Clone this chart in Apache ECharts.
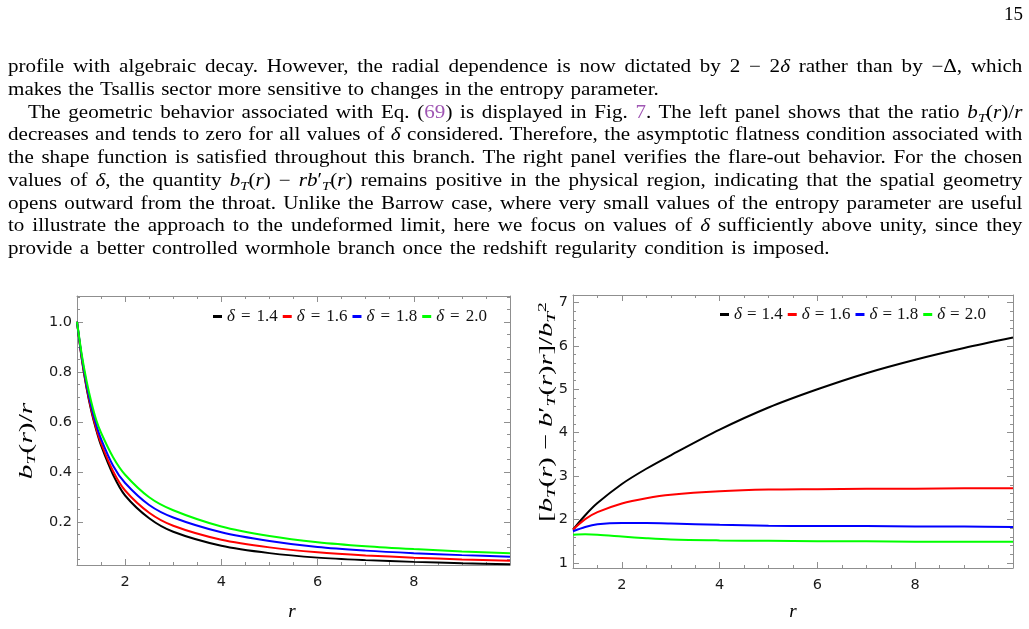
<!DOCTYPE html>
<html>
<head>
<meta charset="utf-8">
<title>Fig. 7</title>
<script src="https://cdn.jsdelivr.net/npm/echarts@6/dist/echarts.min.js"></script>
<style>
body{margin:0;background:#fff;}
#main{position:absolute;left:0;top:0;width:1029px;height:629px;}
#page{position:absolute;left:8px;top:0;width:867px;height:280px;z-index:2;font-family:"Liberation Serif",serif;font-size:18px;color:#000;transform:scaleX(1.17);transform-origin:0 0;}
.ln{position:absolute;left:0;width:867px;height:23px;line-height:23px;}
.j{text-align:justify;text-align-last:justify;}
.ln sub{font-size:0.7em;line-height:0;vertical-align:-0.3em;}
.lk{color:#9f56b3;}
#pn{position:absolute;right:6px;top:3px;font-family:"Liberation Serif",serif;font-size:19px;z-index:2;}
</style>
</head>
<body>
<div id="main"></div>
<div id="pn">15</div>
<div id="page">
  <div class="ln j" style="top:55px">profile with algebraic decay. However, the radial dependence is now dictated by 2 &minus; 2<i>&delta;</i> rather than by &minus;&Delta;, which</div>
  <div class="ln" style="top:78px;word-spacing:1px">makes the Tsallis sector more sensitive to changes in the entropy parameter.</div>
  <div class="ln j" style="top:101px;left:17px;width:850px">The geometric behavior associated with Eq. (<span class="lk">69</span>) is displayed in Fig. <span class="lk">7</span>. The left panel shows that the ratio <i>b</i><sub><i>T</i></sub>(<i>r</i>)/<i>r</i></div>
  <div class="ln j" style="top:123px">decreases and tends to zero for all values of <i>&delta;</i> considered. Therefore, the asymptotic flatness condition associated with</div>
  <div class="ln j" style="top:146px">the shape function is satisfied throughout this branch. The right panel verifies the flare-out behavior. For the chosen</div>
  <div class="ln j" style="top:169px">values of <i>&delta;</i>, the quantity <i>b</i><sub><i>T</i></sub>(<i>r</i>) &minus; <i>rb</i>&prime;<sub><i>T</i></sub>(<i>r</i>) remains positive in the physical region, indicating that the spatial geometry</div>
  <div class="ln j" style="top:192px">opens outward from the throat. Unlike the Barrow case, where very small values of the entropy parameter are useful</div>
  <div class="ln j" style="top:214px">to illustrate the approach to the undeformed limit, here we focus on values of <i>&delta;</i> sufficiently above unity, since they</div>
  <div class="ln" style="top:237px;word-spacing:1.9px">provide a better controlled wormhole branch once the redshift regularity condition is imposed.</div>
</div>
<script type="text/javascript">
// values
var deltas = ['1.4', '1.6', '1.8', '2.0'];
var colors = ['#000000', '#ff0000', '#0000ff', '#00ff00'];

// left panel: b_T(r)/r
var rLeft = [1, 1.1, 1.2, 1.3, 1.4, 1.5, 1.75, 2, 2.5, 3, 4, 5, 6, 7, 8, 9, 10];
var ratio14 = [1.0, 0.850, 0.734, 0.641, 0.567, 0.505, 0.388, 0.305, 0.214, 0.160, 0.104, 0.0745, 0.0565, 0.0465, 0.0395, 0.0342, 0.030];
var ratio16 = [1.0, 0.853, 0.739, 0.647, 0.573, 0.514, 0.402, 0.325, 0.236, 0.184, 0.128, 0.0975, 0.078, 0.0654, 0.0564, 0.0494, 0.044];
var ratio18 = [1.0, 0.859, 0.748, 0.659, 0.588, 0.531, 0.424, 0.355, 0.267, 0.217, 0.158, 0.123, 0.0987, 0.0845, 0.0744, 0.0665, 0.060];
var ratio20 = [1.0, 0.867, 0.762, 0.677, 0.607, 0.556, 0.458, 0.388, 0.298, 0.246, 0.181, 0.143, 0.118, 0.102, 0.0906, 0.0814, 0.074];

// right panel: [b_T - b'_T r]/b_T^2
var rRight = [1, 1.25, 1.5, 2, 2.5, 3, 4, 5, 6, 7, 8, 9, 10];
var flare14 = [1.77, 2.10, 2.38, 2.82, 3.17, 3.48, 4.07, 4.58, 5.00, 5.37, 5.68, 5.95, 6.19];
var flare16 = [1.77, 2.01, 2.17, 2.37, 2.49, 2.57, 2.65, 2.69, 2.70, 2.71, 2.71, 2.72, 2.72];
var flare18 = [1.73, 1.83, 1.89, 1.92, 1.92, 1.91, 1.88, 1.86, 1.85, 1.85, 1.84, 1.84, 1.83];
var flare20 = [1.65, 1.66, 1.65, 1.61, 1.57, 1.54, 1.52, 1.51, 1.50, 1.50, 1.49, 1.49, 1.49];

// ticks
var xMajor = [2, 4, 6, 8];
var xMinor = [1.5, 2.5, 3, 3.5, 4.5, 5, 5.5, 6.5, 7, 7.5, 8.5, 9, 9.5];
var yLeftMajor = [0.2, 0.4, 0.6, 0.8, 1.0];
var yLeftMinor = [0.05, 0.1, 0.15, 0.25, 0.3, 0.35, 0.45, 0.5, 0.55, 0.65, 0.7, 0.75, 0.85, 0.9, 0.95, 1.05, 1.1];
var yRightMajor = [1, 2, 3, 4, 5, 6, 7];
var yRightMinor = [1.2, 1.4, 1.6, 1.8, 2.2, 2.4, 2.6, 2.8, 3.2, 3.4, 3.6, 3.8, 4.2, 4.4, 4.6, 4.8, 5.2, 5.4, 5.6, 5.8, 6.2, 6.4, 6.6, 6.8];

var frameColor = '#8f8f8f';
var serif = 'Liberation Serif';

function frame(dim, gi, min, max, major, minor, fmt) {
	var pos = dim === 'x' ? ['bottom', 'top'] : ['left', 'right'];
	var out = [];
	pos.forEach(function (p, k) {
		out.push({
			type: 'value', gridIndex: gi, position: p, min: min, max: max,
			axisLine: { show: true, onZero: false, lineStyle: { color: frameColor, width: 1 } },
			axisTick: { show: true, inside: true, length: 6, customValues: major, lineStyle: { color: frameColor } },
			axisLabel: {
				show: k === 0, customValues: major, formatter: fmt,
				color: '#1a1a1a', fontFamily: 'DejaVu Sans', fontSize: 14.5,
				margin: dim === 'x' ? 10 : 5
			},
			splitLine: { show: false }
		});
		out.push({
			type: 'value', gridIndex: gi, position: p, min: min, max: max,
			axisLine: { show: false, onZero: false },
			axisTick: { show: true, inside: true, length: 3, customValues: minor, lineStyle: { color: frameColor } },
			axisLabel: { show: false },
			splitLine: { show: false }
		});
	});
	return out;
}

function pairs(xs, ys) {
	return xs.map(function (x, i) { return [x, ys[i]]; });
}

var leftSets = [ratio14, ratio16, ratio18, ratio20];
var rightSets = [flare14, flare16, flare18, flare20];
var names = deltas.map(function (d) { return 'δ = ' + d; });

var series = [];
leftSets.forEach(function (ys, i) {
	series.push({
		name: names[i], type: 'line', xAxisIndex: 0, yAxisIndex: 0,
		data: pairs(rLeft, ys), showSymbol: false, smooth: 0.3,
		lineStyle: { color: colors[i], width: 2 }, itemStyle: { color: colors[i] }
	});
});
rightSets.forEach(function (ys, i) {
	series.push({
		name: names[i], type: 'line', xAxisIndex: 4, yAxisIndex: 4,
		data: pairs(rRight, ys), showSymbol: false, smooth: 0.3,
		lineStyle: { color: colors[i], width: 2 }, itemStyle: { color: colors[i] }
	});
});

var rich = {
	i: { fontFamily: serif, fontStyle: 'italic', fontSize: 19, color: '#3a3a3a' },
	n: { fontFamily: serif, fontSize: 19, color: '#3a3a3a' },
	sub: { fontFamily: serif, fontStyle: 'italic', fontSize: 13, color: '#3a3a3a', padding: [9, 0, 0, 0] },
	sup: { fontFamily: serif, fontSize: 13, color: '#3a3a3a', padding: [0, 0, 9, 0] }
};

function legendOf(left, top, gap) {
	return {
		data: names, left: left, top: top, padding: 0, icon: 'rect', itemWidth: 9, itemHeight: 3, itemGap: 5,
		selectedMode: false,
		formatter: function (n) { return '{i|δ}{e|=}{n|' + n.slice(4) + '}'; },
		textStyle: {
			rich: {
				i: { fontFamily: serif, fontStyle: 'italic', fontSize: 17, color: '#111' },
				e: { fontFamily: serif, fontSize: 17, color: '#111', padding: [0, gap, 0, gap] },
				n: { fontFamily: serif, fontSize: 17, color: '#111' }
			}
		}
	};
}

var chart = echarts.init(document.getElementById('main'));
chart.setOption({
	animation: false,
	grid: [
		{ left: 77, top: 296, width: 433, height: 269 },
		{ left: 573, top: 295, width: 440, height: 273 }
	],
	xAxis: frame('x', 0, 1, 10, xMajor, xMinor, function (v) { return String(v); })
		.concat(frame('x', 1, 1, 10, xMajor, xMinor, function (v) { return String(v); })),
	yAxis: frame('y', 0, 0.027, 1.103, yLeftMajor, yLeftMinor, function (v) { return v.toFixed(1); })
		.concat(frame('y', 1, 0.885, 7.17, yRightMajor, yRightMinor, function (v) { return String(v); })),
	legend: [legendOf(213, 308, 6), legendOf(720, 306, 5)],
	graphic: [
		{ type: 'text', x: 27, y: 441, rotation: Math.PI / 2, scaleX: 1.55,
			style: { text: '{i|b}{sub|T}{n|(}{i|r}{n|)/}{i|r}', rich: rich, align: 'center', verticalAlign: 'middle' } },
		{ type: 'text', x: 547, y: 412, rotation: Math.PI / 2, scaleX: 1.5,
			style: { text: '{n|[}{i|b}{sub|T}{n|(}{i|r}{n|) − }{i|b}{n|′}{sub|T}{n|(}{i|r}{n|)}{i|r}{n|]/}{i|b}{sub|T}{sup|2}', rich: rich, align: 'center', verticalAlign: 'middle' } },
		{ type: 'text', x: 292, y: 612, style: { text: '{i|r}', rich: rich, align: 'center', verticalAlign: 'middle' } },
		{ type: 'text', x: 793, y: 612, style: { text: '{i|r}', rich: rich, align: 'center', verticalAlign: 'middle' } }
	],
	series: series
});
</script>
</body>
</html>
